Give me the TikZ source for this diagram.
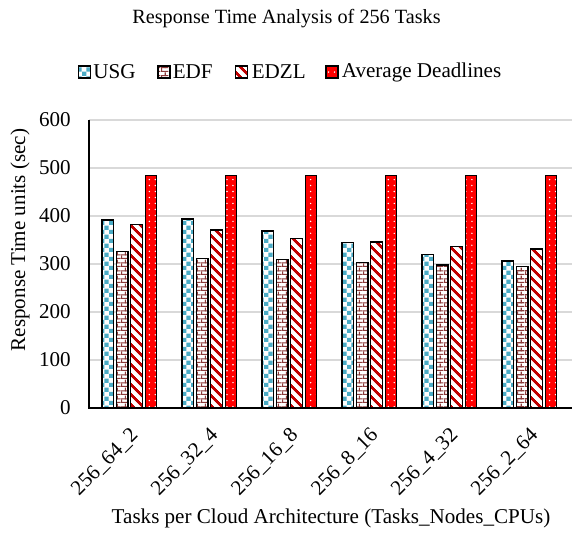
\documentclass[tikz,border=0pt]{standalone}
\usepackage{fontspec}
\setmainfont{Liberation Serif}
\usetikzlibrary{patterns.meta}

\definecolor{usgblue}{HTML}{4BACC6}
\definecolor{edfbrown}{HTML}{8B3A3A}
\definecolor{edzlred}{HTML}{C00000}
\definecolor{gridgray}{HTML}{D9D9D9}

\tikzdeclarepattern{
  name=usgcheck, type=uncolored,
  bounding box={(0,0) and (5.2pt,5.2pt)},
  tile size={(5.2pt,5.2pt)},
  code={
    \fill (0,0) rectangle (2.6pt,2.6pt);
    \fill (2.6pt,2.6pt) rectangle (5.2pt,5.2pt);
  }
}
\tikzdeclarepattern{
  name=edfbricks, type=uncolored,
  bounding box={(0,0) and (4.6pt,4.6pt)},
  tile size={(4.6pt,4.6pt)},
  code={
    \draw[line width=0.7pt] (0,0.35pt) -- (4.6pt,0.35pt);
    \draw[line width=0.7pt] (0,2.65pt) -- (4.6pt,2.65pt);
    \draw[line width=0.7pt] (0.35pt,0) -- (0.35pt,2.3pt);
    \draw[line width=0.7pt] (2.65pt,2.3pt) -- (2.65pt,4.6pt);
  }
}

\begin{document}
\begin{tikzpicture}[x=0.02cm, y=0.02cm,
  lbl/.style={font=\fontsize{12}{14}\selectfont, inner sep=0pt},
  gridline/.style={gridgray, line width=0.9pt},
  bar/.style={draw=black, line width=0.75pt},
  usgbar/.style={bar, preaction={fill=white}, pattern=usgcheck, pattern color=usgblue},
  edfbar/.style={bar, preaction={fill=white}, pattern=edfbricks, pattern color=edfbrown},
  edzlbar/.style={bar, preaction={fill=white},
    pattern={Lines[angle=-45, distance=4pt, line width=1.6pt]}, pattern color=edzlred},
  avgbar/.style={bar, preaction={fill=red},
    pattern={Dots[radius=0.45pt, distance=3.4pt]}, pattern color=white}]

  \useasboundingbox (0,0) rectangle (572,532);

  % grid and axes
  \foreach \v in {100,200,...,600} {
    \draw[gridline] (89,{124+\v*0.48}) -- (572,{124+\v*0.48});
  }
  \foreach \v in {0,100,...,600} {
    \node[lbl, anchor=east] (y\v) at (71,{124+\v*0.48}) {\v};
  }

  % bars
  \foreach \i/\u/\e/\z/\lab in {0/392/326/383/256\_64\_2, 1/394/311/371/256\_32\_4,
      2/369/309/353/256\_16\_8, 3/345/303/346/256\_8\_16,
      4/320/298/336/256\_4\_32, 5/306/295/331/256\_2\_64} {
    \draw[usgbar] ({89+80*\i+13},124) rectangle ({89+80*\i+24.5},{124+\u*0.48});
    \draw[edfbar] ({89+80*\i+27.4},124) rectangle ({89+80*\i+38.9},{124+\e*0.48});
    \draw[edzlbar] ({89+80*\i+41.8},124) rectangle ({89+80*\i+53.3},{124+\z*0.48});
    \draw[avgbar] ({89+80*\i+56.2},124) rectangle ({89+80*\i+67.7},{124+484*0.48});
    \node[lbl, rotate=45, anchor=north east] (c\i) at ({89+80*\i+40},106) {\lab};
  }

  \draw[line width=1pt] (89,123.5) -- (89,412);
  \draw[line width=1pt] (88,124) -- (572,124);

  % legend
  \draw[usgbar] (78.5,454) rectangle (90.5,466);
  \node[lbl, anchor=west] (lusg) at (93,460) {USG};
  \draw[edfbar] (158,454) rectangle (170,466);
  \node[lbl, anchor=west] (ledf) at (172.5,460) {EDF};
  \draw[edzlbar] (235.5,454) rectangle (247.5,466);
  \node[lbl, anchor=west] (ledzl) at (251.5,460) {EDZL};
  \draw[avgbar] (326,454) rectangle (338,466);
  \node[lbl, anchor=west] (lavg) at (341.5,460) {Average Deadlines};

  % titles
  \node[font=\fontsize{11.5}{13}\selectfont] (title) at (286.5,513) {Response Time Analysis of 256 Tasks};
  \node[lbl, rotate=90] (ytitle) at (20,292) {Response Time units (sec)};
  \node[lbl] (xtitle) at (331,14) {Tasks per Cloud Architecture (Tasks\_Nodes\_CPUs)};
\end{tikzpicture}
\end{document}
